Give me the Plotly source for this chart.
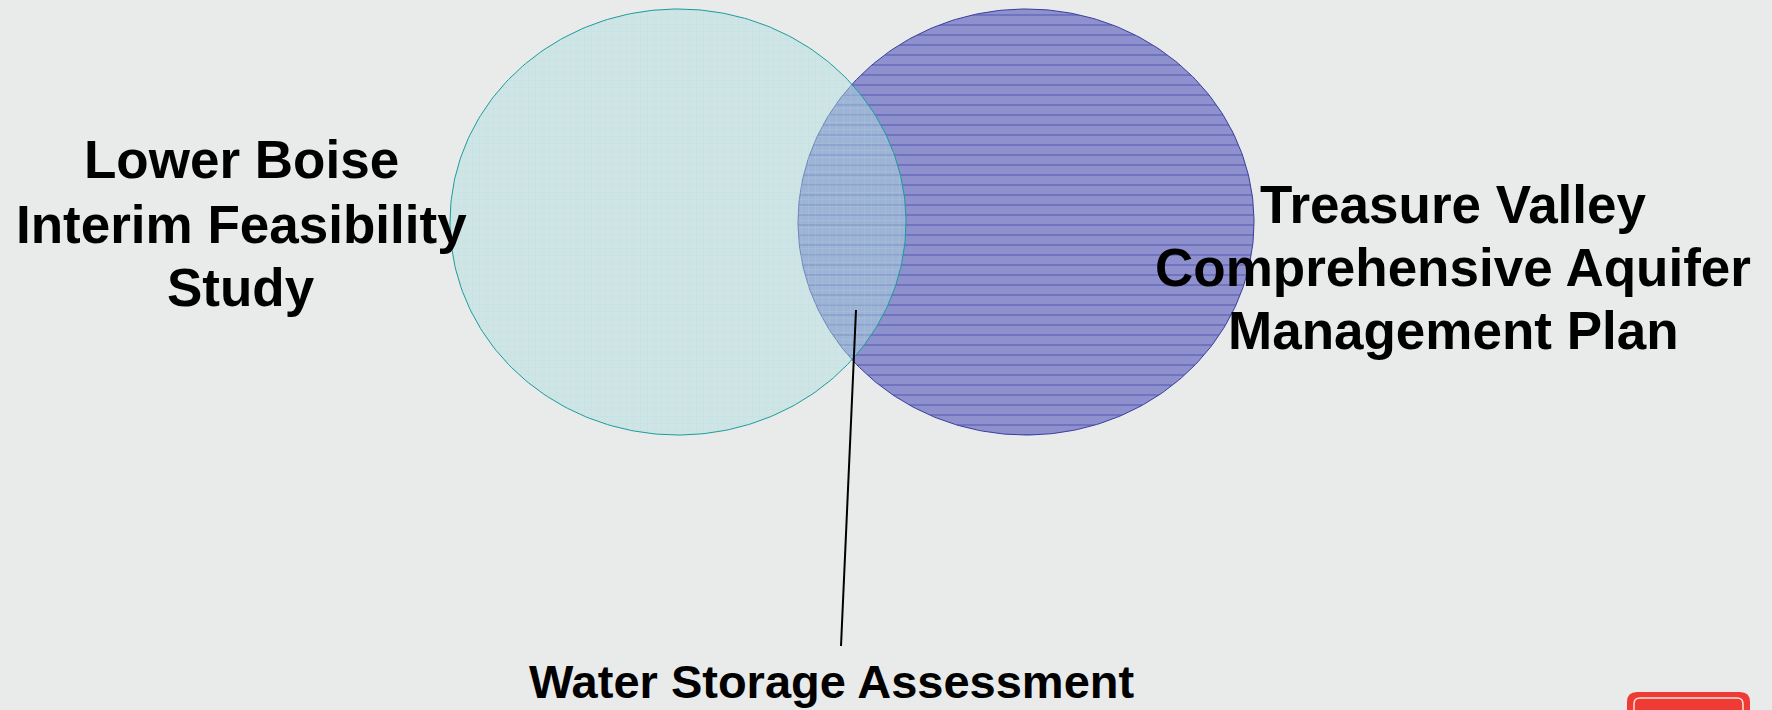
import numpy as np
import plotly.graph_objects as go

# ---------------- data ----------------
set_names = ["Lower Boise Interim Feasibility Study",
             "Treasure Valley Comprehensive Aquifer Management Plan"]
left_label_lines = ["Lower Boise", "Interim Feasibility", "Study"]
right_label_lines = ["Treasure Valley", "Comprehensive Aquifer", "Management Plan"]
overlap_label = "Water Storage Assessment"

# ---------------- layout geometry (pixel-like axis units) ----------------
W, H = 1772, 710
circ_cx = [678, 1026]
circ_cy = [222, 222]
circ_rx = [228, 228]
circ_ry = [213, 213]

theta = np.linspace(0, 2 * np.pi, 361)

def ellipse(i):
    return (circ_cx[i] + circ_rx[i] * np.cos(theta),
            circ_cy[i] + circ_ry[i] * np.sin(theta))

fig = go.Figure()

# right set (purple, horizontal lines)
xr, yr = ellipse(1)
fig.add_trace(go.Scatter(
    x=xr, y=yr, mode="lines", fill="toself", name=set_names[1],
    line=dict(color="#3a3c9e", width=1),
    fillcolor="#8c8fcc",
    fillpattern=dict(shape="-", size=10, solidity=0.1,
                     fgcolor="#4a4dac", fgopacity=0.9, bgcolor="#8e91cd"),
    hoverinfo="skip", showlegend=False))

# left set (light cyan, grid), translucent on top
xl, yl = ellipse(0)
fig.add_trace(go.Scatter(
    x=xl, y=yl, mode="lines", fill="toself", name=set_names[0],
    line=dict(color="#1a9c9c", width=1),
    fillcolor="rgba(175,220,222,0.45)",
    fillpattern=dict(shape="+", size=7, solidity=0.14,
                     fgcolor="rgba(160,225,228,0.6)", fgopacity=0.6,
                     bgcolor="rgba(178,220,222,0.45)"),
    hoverinfo="skip", showlegend=False))

# leader line for overlap
fig.add_trace(go.Scatter(
    x=[856, 841], y=[310, 646], mode="lines",
    line=dict(color="black", width=2),
    hoverinfo="skip", showlegend=False))

font_family = "Liberation Sans, Arial, sans-serif"

left_x, left_y = 241, [159, 224, 287]
right_x, right_y = 1453, [204, 267, 330]
for txt, yy in zip(left_label_lines, left_y):
    fig.add_annotation(x=left_x, y=yy, text="<b>%s</b>" % txt, showarrow=False,
                       xanchor="center", yanchor="middle",
                       font=dict(family=font_family, size=53, color="black"))
for txt, yy in zip(right_label_lines, right_y):
    fig.add_annotation(x=right_x, y=yy, text="<b>%s</b>" % txt, showarrow=False,
                       xanchor="center", yanchor="middle",
                       font=dict(family=font_family, size=53, color="black"))
fig.add_annotation(x=831, y=681, text="<b>%s</b>" % overlap_label, showarrow=False,
                   xanchor="center", yanchor="middle",
                   font=dict(family=font_family, size=47, color="black"))

# red logo frame in bottom right corner (decoration)
fig.add_shape(type="path", xref="x", yref="y",
              path="M 1627 722 L 1627 702 Q 1627 692 1637 692 L 1740 692 Q 1750 692 1750 702 L 1750 722 Z",
              fillcolor="#ee3b33", line=dict(width=0), layer="above")
fig.add_shape(type="path", xref="x", yref="y",
              path="M 1634 722 L 1634 704 Q 1634 698 1640 698 L 1737 698 Q 1743 698 1743 704 L 1743 722",
              fillcolor="rgba(0,0,0,0)", line=dict(color="#fbe3e0", width=1.5), layer="above")

fig.update_layout(
    width=W, height=H,
    margin=dict(l=0, r=0, t=0, b=0),
    paper_bgcolor="#e8ebea", plot_bgcolor="#e8ebea",
    xaxis=dict(range=[0, W], visible=False, fixedrange=True),
    yaxis=dict(range=[H, 0], visible=False, fixedrange=True),
    showlegend=False,
)

fig.write_html("out.html")
